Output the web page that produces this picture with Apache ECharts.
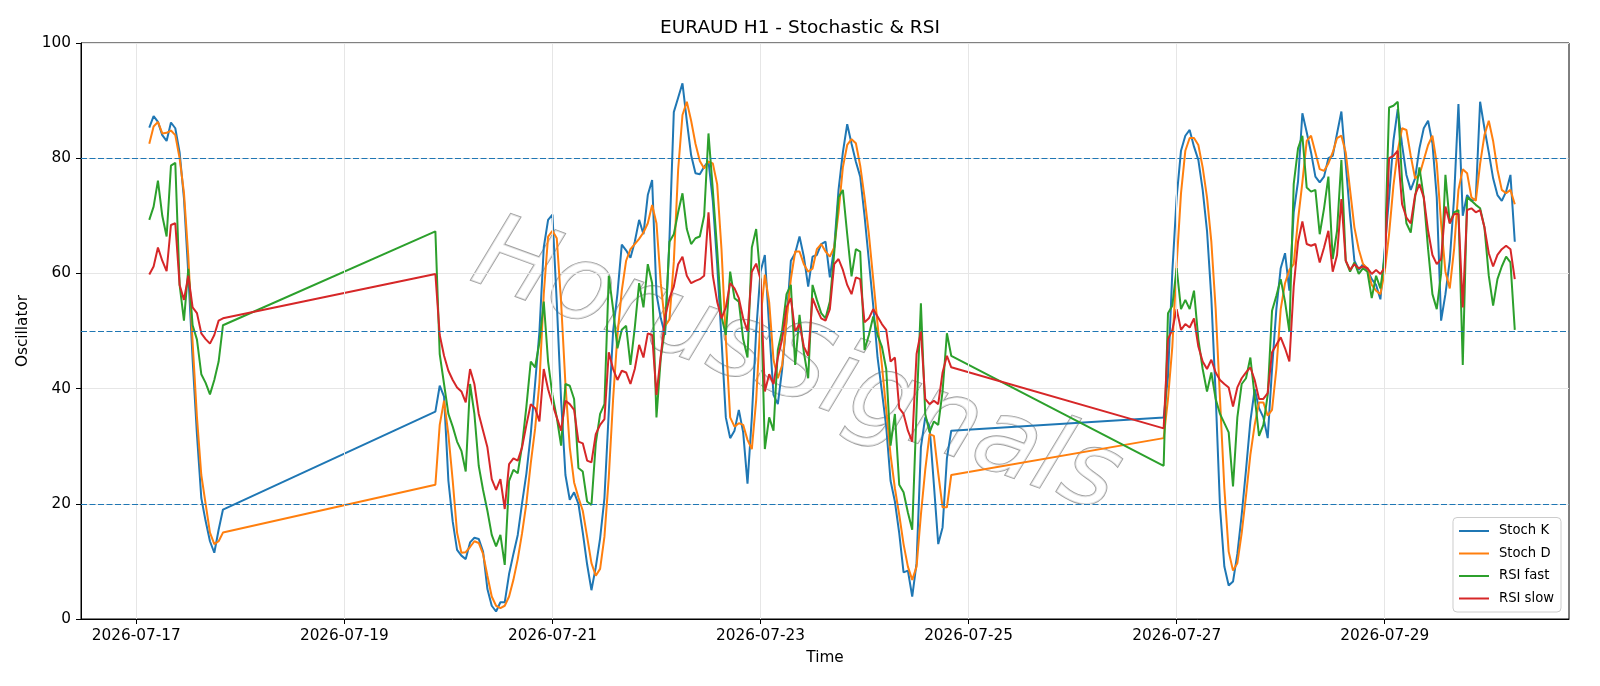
<!DOCTYPE html>
<html>
<head>
<meta charset="utf-8">
<script src="https://cdn.jsdelivr.net/npm/echarts@6/dist/echarts.min.js"></script>
<style>
  html, body { margin: 0; padding: 0; background: #fff; }
  #chart { width: 1600px; height: 686px; }
</style>
</head>
<body>
<div id="chart"></div>
<script>
// hourly bars, three trading blocks (weekend gaps in between)
const segStart = ['2026-07-17 03:00', '2026-07-19 21:00', '2026-07-26 21:00'];
const segLength = [18, 120, 82];

const dateLabels = ['2026-07-17', '2026-07-19', '2026-07-21', '2026-07-23', '2026-07-25', '2026-07-27', '2026-07-29'];
const levels = [20, 50, 80];
const seriesNames = ['Stoch K', 'Stoch D', 'RSI fast', 'RSI slow'];

const stochK = [
  85.3, 87.3, 86.3, 84, 83, 86.2, 85.2, 81, 73, 60, 45, 32, 21, 17, 13.5, 11.5, 15.5, 19,
  36.0, 40.5, 38.6, 24, 16.9, 12.0, 11.0, 10.4, 13.3, 14.1,
  13.9, 11.7, 5.2, 2.3, 1.3, 2.9, 2.9, 7.8, 11.3, 14.6,
  20.1, 25.3, 32.1, 40.8, 49.9, 64.5, 69.3, 70.2, 55, 38,
  25, 20.7, 22, 20, 15, 9.5, 5, 9, 14, 21,
  36, 50, 56.5, 65, 64, 62.7, 65.5, 69.3, 66.8, 73.6,
  76.2, 56.4, 52.2, 49.3, 66, 88, 90.5, 93.0, 86.5, 80.5,
  77.4, 77.2, 78.5, 79.5, 72.6, 61.6, 48.6, 35.0, 31.4, 32.7,
  36.3, 32.4, 23.5, 35.0, 50, 60.3, 63.2, 50.6, 38.9, 37.3,
  43.4, 51.8, 62.2, 63.5, 66.4, 62.9, 57.7, 62.9, 63.2, 65.1,
  65.5, 59.3, 64.5, 74.5, 81.0, 85.9, 82.5, 79.4, 76.8, 70.0,
  62.2, 54.4, 45.4, 39.5, 33.4, 24.0, 20.4, 14.9, 8.1, 8.4,
  3.9, 9.7, 29.8, 35.0, 33.4, 23.3, 13.0, 15.9, 27.9, 32.7,
  35.0, 42, 60.3, 73.2, 81.3, 83.9, 84.9, 82.0, 79.7, 74.5,
  67.4, 55.7, 38.9, 19.4, 9.1, 5.8, 6.5, 11.3, 18.1, 25.9,
  34.3, 39.9, 36.6, 35.0, 31.4, 43.4, 53.8, 60.9, 63.5, 57.0,
  70.6, 76, 87.8, 84.5, 81.0, 76.8, 75.8, 76.8, 80.0, 80.4,
  84.3, 88.1, 79.1, 70.0, 62.2, 60.6, 61.6, 60.6, 59.0, 58.0,
  55.5, 64.2, 73.2, 83.0, 88.5, 82.3, 77.1, 74.5, 76.5, 81.7,
  85.2, 86.5, 82.6, 73.2, 51.8, 56.4, 62.2, 73.2, 89.4, 70.0,
  73.6, 72.6, 73.0, 89.8, 85.2, 81.0, 76.5, 73.6, 72.6, 74.2,
  77.1, 65.5
];

const stochD = [
  82.5, 85.5, 86.3, 84.3, 84.4, 84.8, 84, 80, 74, 63, 48, 35, 25, 20, 15, 13, 13.5, 15,
  23.3, 33.7, 37.9, 32, 24, 15, 11.5, 11.6, 12.5, 13.5,
  13.2, 11.3, 7.5, 3.9, 2.3, 1.9, 2.3, 3.9, 6.8, 10.4,
  14.9, 20.1, 27.0, 33, 41, 56.4, 66.4, 67.4, 66.1, 55,
  40.8, 29.8, 23.7, 21.1, 18.8, 14.3, 9.7, 7.5, 8.7, 14.3,
  24.6, 38.2, 49.3, 57.0, 62.2, 64.2, 65.1, 66.0, 67.1, 68.7,
  71.9, 68.7, 58.3, 50.9, 52, 62, 78, 87.5, 89.8, 86.5,
  82.5, 79.5, 78.2, 79.4, 79.1, 75.5, 64.2, 48.6, 35.0, 33.4,
  34.0, 33.7, 31.1, 29.5, 38, 52, 59.8, 55, 45, 41.8,
  44.1, 51.8, 59.0, 63.8, 63.8, 61.6, 60.3, 60.8, 64.2, 65.1,
  63.8, 62.9, 64.5, 70.6, 78.4, 82.3, 83.3, 82.6, 78.7, 73.2,
  66.8, 59.0, 51.2, 44.1, 36.3, 28.5, 22.7, 18.1, 13.0, 9.1,
  6.8, 9.1, 18.1, 25.9, 32.1, 31.8, 25.3, 19.4, 19.4, 25.0,
  31.4, 38.2, 47.3, 61.6, 73.9, 81.3, 83.5, 83.5, 82.3, 78.4,
  73.2, 65.5, 53.8, 38.2, 22.7, 11.7, 8.4, 9.7, 14.9, 21.4,
  28.5, 33.7, 37.6, 37.6, 35.3, 36.3, 43.4, 53.8, 58.3, 60.6,
  61.6, 69.3, 75.8, 83.0, 83.9, 81.0, 78.1, 77.8, 79.1, 81.0,
  83.5, 83.9, 81.0, 74.5, 68.0, 64.2, 61.6, 60.9, 58.0, 57.0,
  56.4, 60.3, 66.8, 75.2, 81.3, 85.2, 84.9, 80.4, 76.5, 77.1,
  79.7, 82.3, 83.9, 79.1, 68.7, 60.3, 57.4, 64.2, 74.5, 78.1,
  77.4, 73.2, 72.6, 79, 84, 86.5, 83, 78, 74.5, 73.9,
  74.5, 72.0
];

const rsiFast = [
  69.3, 71.6, 76.1, 70, 66.4, 78.7, 79.2, 58, 51.8, 60.8, 51, 48.5, 42.5, 41, 39, 41.5, 44.7, 51,
  67.3, 46.0, 40.8, 35.6, 33.4, 30.8, 29.2, 25.6, 40.8, 35.6,
  26.6, 22.4, 18.8, 14.6, 12.6, 14.6, 9.4, 24.0, 25.9, 25.3,
  30.1, 36.9, 44.7, 43.7, 48, 55.1, 44.7, 38.9, 35.0, 30.1,
  40.8, 40.5, 38.2, 26.2, 25.6, 20.4, 19.8, 30.5, 35.6, 37.3,
  59.6, 53.8, 47.0, 50.2, 50.9, 44.1, 50.6, 58.3, 54.1, 61.6,
  58.3, 35.0, 45.4, 50.6, 65.5, 66.8, 70.6, 73.9, 67.7, 65.1,
  66.1, 66.4, 70.0, 84.3, 74.5, 64.2, 52.5, 49.3, 60.3, 55.7,
  55.1, 48.6, 45.4, 64.5, 67.7, 59, 29.5, 35.0, 32.7, 46.7,
  50.2, 56.4, 58.0, 44.1, 52.8, 46.3, 41.8, 58.0, 55.4, 53.1,
  52.2, 55.1, 63.5, 73.2, 74.5, 66.8, 59.5, 64.2, 63.8, 46.7,
  49.3, 52.5, 49.3, 47.3, 43.4, 30.1, 35.6, 23.3, 22.0, 18.5,
  15.5, 36.3, 54.8, 35.6, 32.4, 34.3, 33.7, 39.5, 49.6, 45.7,
  26.6, 53.1, 54.4, 60.9, 53.8, 55.4, 53.8, 57.0, 48.6, 43.4,
  39.5, 42.8, 38.2, 35.6, 34.0, 32.4, 23.0, 35.0, 40.8, 41.8,
  45.4, 38.6, 31.8, 33.7, 38.9, 53.5, 56.1, 59.0, 55.1, 49.9,
  75.5, 81.7, 83.9, 74.9, 74.2, 74.5, 66.8, 71.3, 76.8, 62.5,
  67.4, 79.7, 62.2, 60.3, 61.9, 59.9, 60.9, 60.3, 55.7, 59.6,
  57.4, 62.9, 88.8, 89.1, 89.8, 76, 68.7, 67.1, 73.2, 78.4,
  73.2, 64.2, 56.4, 53.8, 60, 77.1, 68.7, 70.6, 71.0, 44.1,
  73.2, 72.6, 71.9, 71.3, 68.0, 59.6, 54.4, 59.0, 61.2, 62.9,
  61.9, 50.2
];

const rsiSlow = [
  59.8, 61.2, 64.5, 62.2, 60.4, 68.4, 68.7, 58, 55.4, 59.6, 54.1, 53.1, 49.6, 48.6, 47.8, 49.3, 51.8, 52.2,
  59.9, 49.3, 45.7, 43.1, 41.5, 40.2, 39.5, 37.6, 43.4, 40.8,
  35.6, 32.7, 29.8, 24.3, 22.4, 24.3, 19.1, 26.9, 27.9, 27.5,
  29.8, 33.7, 37.3, 36.6, 34.3, 43.4, 39.9, 37.3, 35.0, 32.7,
  37.9, 37.3, 36.3, 30.8, 30.5, 27.5, 27.2, 32.1, 33.7, 34.7,
  46.3, 43.4, 41.5, 43.1, 42.8, 40.8, 43.4, 47.6, 45.4, 49.6,
  49.3, 38.9, 45.7, 52.5, 55.7, 57.7, 61.6, 62.9, 59.6, 58.3,
  58.7, 59.0, 59.6, 70.6, 59.6, 55.1, 52.2, 54.1, 58.3, 57.4,
  55.7, 52.2, 50.0, 60.3, 61.7, 59.0, 39.5, 42.5, 40.8, 45.4,
  48.6, 54.1, 55.7, 49.9, 51.2, 47.3, 45.7, 55.7, 53.8, 52.2,
  51.8, 53.8, 61.6, 62.5, 60.6, 58.0, 56.4, 59.3, 59.0, 51.5,
  52.2, 53.8, 52.5, 51.2, 50.2, 44.7, 45.4, 36.6, 35.6, 32.7,
  30.8, 46.0, 49.9, 38.2, 37.3, 37.9, 37.3, 42.8, 45.7, 43.7,
  33.1, 48.6, 50.2, 53.8, 50.2, 51.2, 50.6, 52.2, 47.3, 44.7,
  43.4, 45.0, 42.8, 41.5, 40.8, 40.2, 36.9, 40.2, 41.8, 42.8,
  43.7, 41.5, 38.2, 38.2, 39.2, 46.3, 47.6, 48.9, 47.0, 44.7,
  57.7, 65.5, 69.0, 65.1, 64.8, 65.1, 61.9, 64.5, 67.4, 60.3,
  63.2, 72.9, 62.2, 60.6, 61.6, 60.9, 61.2, 60.9, 59.9, 60.6,
  59.9, 61, 80.0, 80.4, 81.3, 72, 69.7, 68.7, 73.6, 75.5,
  73.2, 67.4, 63.2, 61.6, 62.5, 71.6, 68.7, 70.3, 70.3, 54.1,
  71.0, 71.3, 70.6, 71.0, 68.0, 63.5, 61.2, 63.2, 64.2, 64.8,
  64.2, 59.0
];

const colors = ['#1f77b4', '#ff7f0e', '#2ca02c', '#d62728'];
const FONT = 'DejaVu Sans';

// hours since 2026-07-17 00:00
function toHours(str) {
  const parts = str.split(' ');
  const d = parts[0].split('-').map(Number);
  const hh = parts[1] ? Number(parts[1].split(':')[0]) : 0;
  return (Date.UTC(d[0], d[1] - 1, d[2], hh) - Date.UTC(2026, 6, 17)) / 3600000;
}

const hours = [];
segStart.forEach((s, i) => {
  const h0 = toHours(s);
  for (let k = 0; k < segLength[i]; k++) hours.push(h0 + k);
});
const tickHours = dateLabels.map(toHours);
const span = hours[hours.length - 1] - hours[0];
const xMin = hours[0] - span * 0.05;
const xMax = hours[hours.length - 1] + span * 0.0397;

const valueSets = [stochK, stochD, rsiFast, rsiSlow];

const chart = echarts.init(document.getElementById('chart'));

const lineSeries = seriesNames.map((name, i) => ({
  name: name,
  type: 'line',
  data: hours.map((h, j) => [h, valueSets[i][j]]),
  showSymbol: false,
  symbol: 'none',
  z: 3,
  lineStyle: { width: 2, color: colors[i] },
  itemStyle: { color: colors[i] }
}));

const option = {
  animation: false,
  backgroundColor: '#fff',
  title: {
    text: 'EURAUD H1 - Stochastic & RSI',
    left: 'center',
    top: 14,
    textStyle: { fontFamily: FONT, fontSize: 18.5, fontWeight: 'normal', color: '#000' }
  },
  grid: {
    left: 81, right: 31, top: 43, bottom: 67,
    show: true, borderColor: '#000', borderWidth: 1, backgroundColor: 'transparent'
  },
  legend: {
    data: seriesNames,
    orient: 'vertical',
    right: 39,
    bottom: 74,
    icon: 'rect',
    itemWidth: 30,
    itemHeight: 2,
    itemGap: 7.5,
    padding: [6, 7, 6, 6],
    backgroundColor: 'rgba(255,255,255,0.85)',
    borderColor: '#cccccc',
    borderWidth: 1,
    borderRadius: 4,
    textStyle: { fontFamily: FONT, fontSize: 13.2, lineHeight: 15, color: '#000', padding: [0, 0, 0, 5] }
  },
  graphic: [{
    type: 'text',
    z: 0,
    silent: true,
    x: 796, y: 370,
    rotation: -0.35,
    style: {
      text: 'HorusSignals',
      x: 0, y: 0,
      align: 'center',
      verticalAlign: 'middle',
      font: 'italic 104px "DejaVu Sans"',
      fill: 'rgba(255,255,255,0.7)',
      stroke: '#a0a0a0',
      lineWidth: 1.8,
      shadowColor: 'rgba(0,0,0,0.4)',
      shadowOffsetX: 4,
      shadowOffsetY: 4,
      shadowBlur: 3
    }
  }],
  xAxis: {
    type: 'value',
    min: xMin,
    max: xMax,
    name: 'Time',
    nameLocation: 'middle',
    nameGap: 32,
    nameTextStyle: { fontFamily: FONT, fontSize: 15.3, color: '#000' },
    axisLine: { show: true, onZero: false, lineStyle: { color: '#000', width: 1 } },
    axisTick: { show: true, length: 5, customValues: tickHours, lineStyle: { color: '#000' } },
    axisLabel: {
      customValues: tickHours,
      margin: 10,
      fontFamily: FONT, fontSize: 15.3, color: '#000',
      formatter: v => dateLabels[tickHours.indexOf(v)] || ''
    },
    splitLine: { show: false }
  },
  yAxis: {
    type: 'value',
    min: 0,
    max: 100,
    interval: 20,
    name: 'Oscillator',
    nameLocation: 'middle',
    nameGap: 47,
    nameRotate: 90,
    nameTextStyle: { fontFamily: FONT, fontSize: 15.3, color: '#000' },
    axisLine: { show: true, onZero: false, lineStyle: { color: '#000', width: 1 } },
    axisTick: { show: true, length: 5, lineStyle: { color: '#000' } },
    axisLabel: { margin: 10, fontFamily: FONT, fontSize: 15.3, color: '#000' },
    splitLine: { show: true, lineStyle: { color: '#e6e6e6', width: 1 } }
  },
  series: [
    {
      // vertical grid at date ticks
      type: 'line',
      data: [],
      z: 1,
      silent: true,
      markLine: {
        silent: true,
        symbol: 'none',
        label: { show: false },
        lineStyle: { color: '#e6e6e6', type: 'solid', width: 1 },
        data: tickHours.map(h => ({ xAxis: h }))
      }
    },
    ...lineSeries,
    {
      // overbought / mid / oversold levels
      type: 'line',
      data: [],
      z: 4,
      silent: true,
      markLine: {
        silent: true,
        symbol: 'none',
        label: { show: false },
        lineStyle: { color: '#1f77b4', type: [6, 2.5], width: 1.2 },
        data: levels.map(v => ({ yAxis: v }))
      }
    }
  ]
};

chart.setOption(option);
</script>
</body>
</html>
